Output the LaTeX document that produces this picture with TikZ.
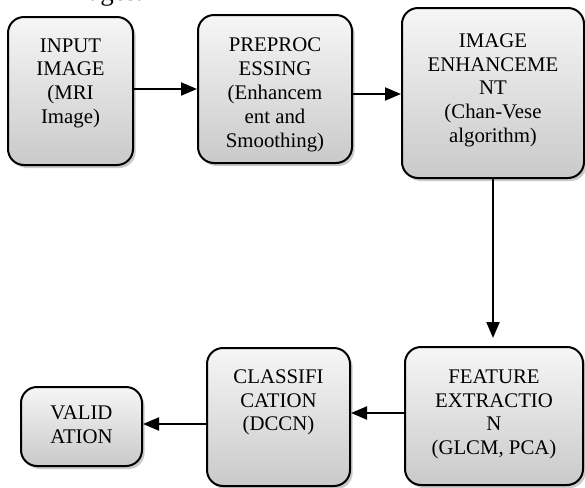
\documentclass[tikz,border=0pt]{standalone}
\usepackage{fontspec}
\setmainfont{Liberation Serif}
\usepackage{tikz}
\usetikzlibrary{arrows.meta,shadows}
\usetikzlibrary{positioning}
\tikzstyle{flow}=[x=0.5pt, y=-0.5pt, >={Triangle[length=8pt,width=6.5pt]},
                line width=1pt]
\tikzstyle{blk}=[draw=black, line width=1pt, rounded corners=8pt, inner sep=0,
                top color=gray!7, bottom color=gray!42,
                drop shadow={shadow xshift=1.3pt, shadow yshift=-1.5pt,
                fill=gray!70, opacity=0.6},
                font=\fontsize{10.4}{11.9}\selectfont]
\tikzstyle{conn}=[->, line width=1pt]
% box text: width, height, top gap, lines
\newcommand{\btext}[4]{\parbox[c][#2][t]{#1}{\centering\vspace*{#3}#4\par}}

\begin{document}
\begin{tikzpicture}[flow]
\path[use as bounding box] (0,0) rectangle (585,488);
\node[anchor=base west, inner sep=0, font=\fontsize{13.5}{15}\selectfont]
  (cap) at (1,0) {MRI images.};
% top row
\node[blk] (in) at (70.5,91)
  {\btext{62.5pt}{74pt}{10.75pt}{INPUT\\IMAGE\\(MRI\\Image)}};
\node[blk] (pre) at (275,89)
  {\btext{77pt}{74pt}{11.6pt}{PREPROC\\ESSING\\(Enhancem\\ent and\\Smoothing)}};
\node[blk] (enh) at (493,93)
  {\btext{91pt}{85pt}{12.75pt}{IMAGE\\ENHANCEME\\NT\\(Chan-Vese\\algorithm)}};
% bottom row
\node[blk] (feat) at (494,416)
  {\btext{89pt}{69pt}{11.25pt}{FEATURE\\EXTRACTIO\\N\\(GLCM, PCA)}};
\node[blk] (cls) at (278.5,417)
  {\btext{71.5pt}{69pt}{10.75pt}{CLASSIFI\\CATION\\(DCCN)}};
\node[blk] (val) at (81.5,426.5)
  {\btext{60.5pt}{39.5pt}{9.25pt}{VALID\\ATION}};
\draw[conn] (in.east) ++(0,-2) coordinate (a1) -- (a1 -| pre.west);
\draw[conn] (pre.east |- enh.west) ++(0,1) coordinate (a2) -- (a2 -| enh.west);
\draw[conn] (enh.south) -- ([yshift=4]enh.south |- feat.north);
\draw[conn] (feat.west) ++(0,-3) coordinate (a3) -- (a3 -| cls.east);
\draw[conn] (cls.west |- val.east) ++(0,-2.5) coordinate (a4) -- (a4 -| val.east);
\end{tikzpicture}
\end{document}
